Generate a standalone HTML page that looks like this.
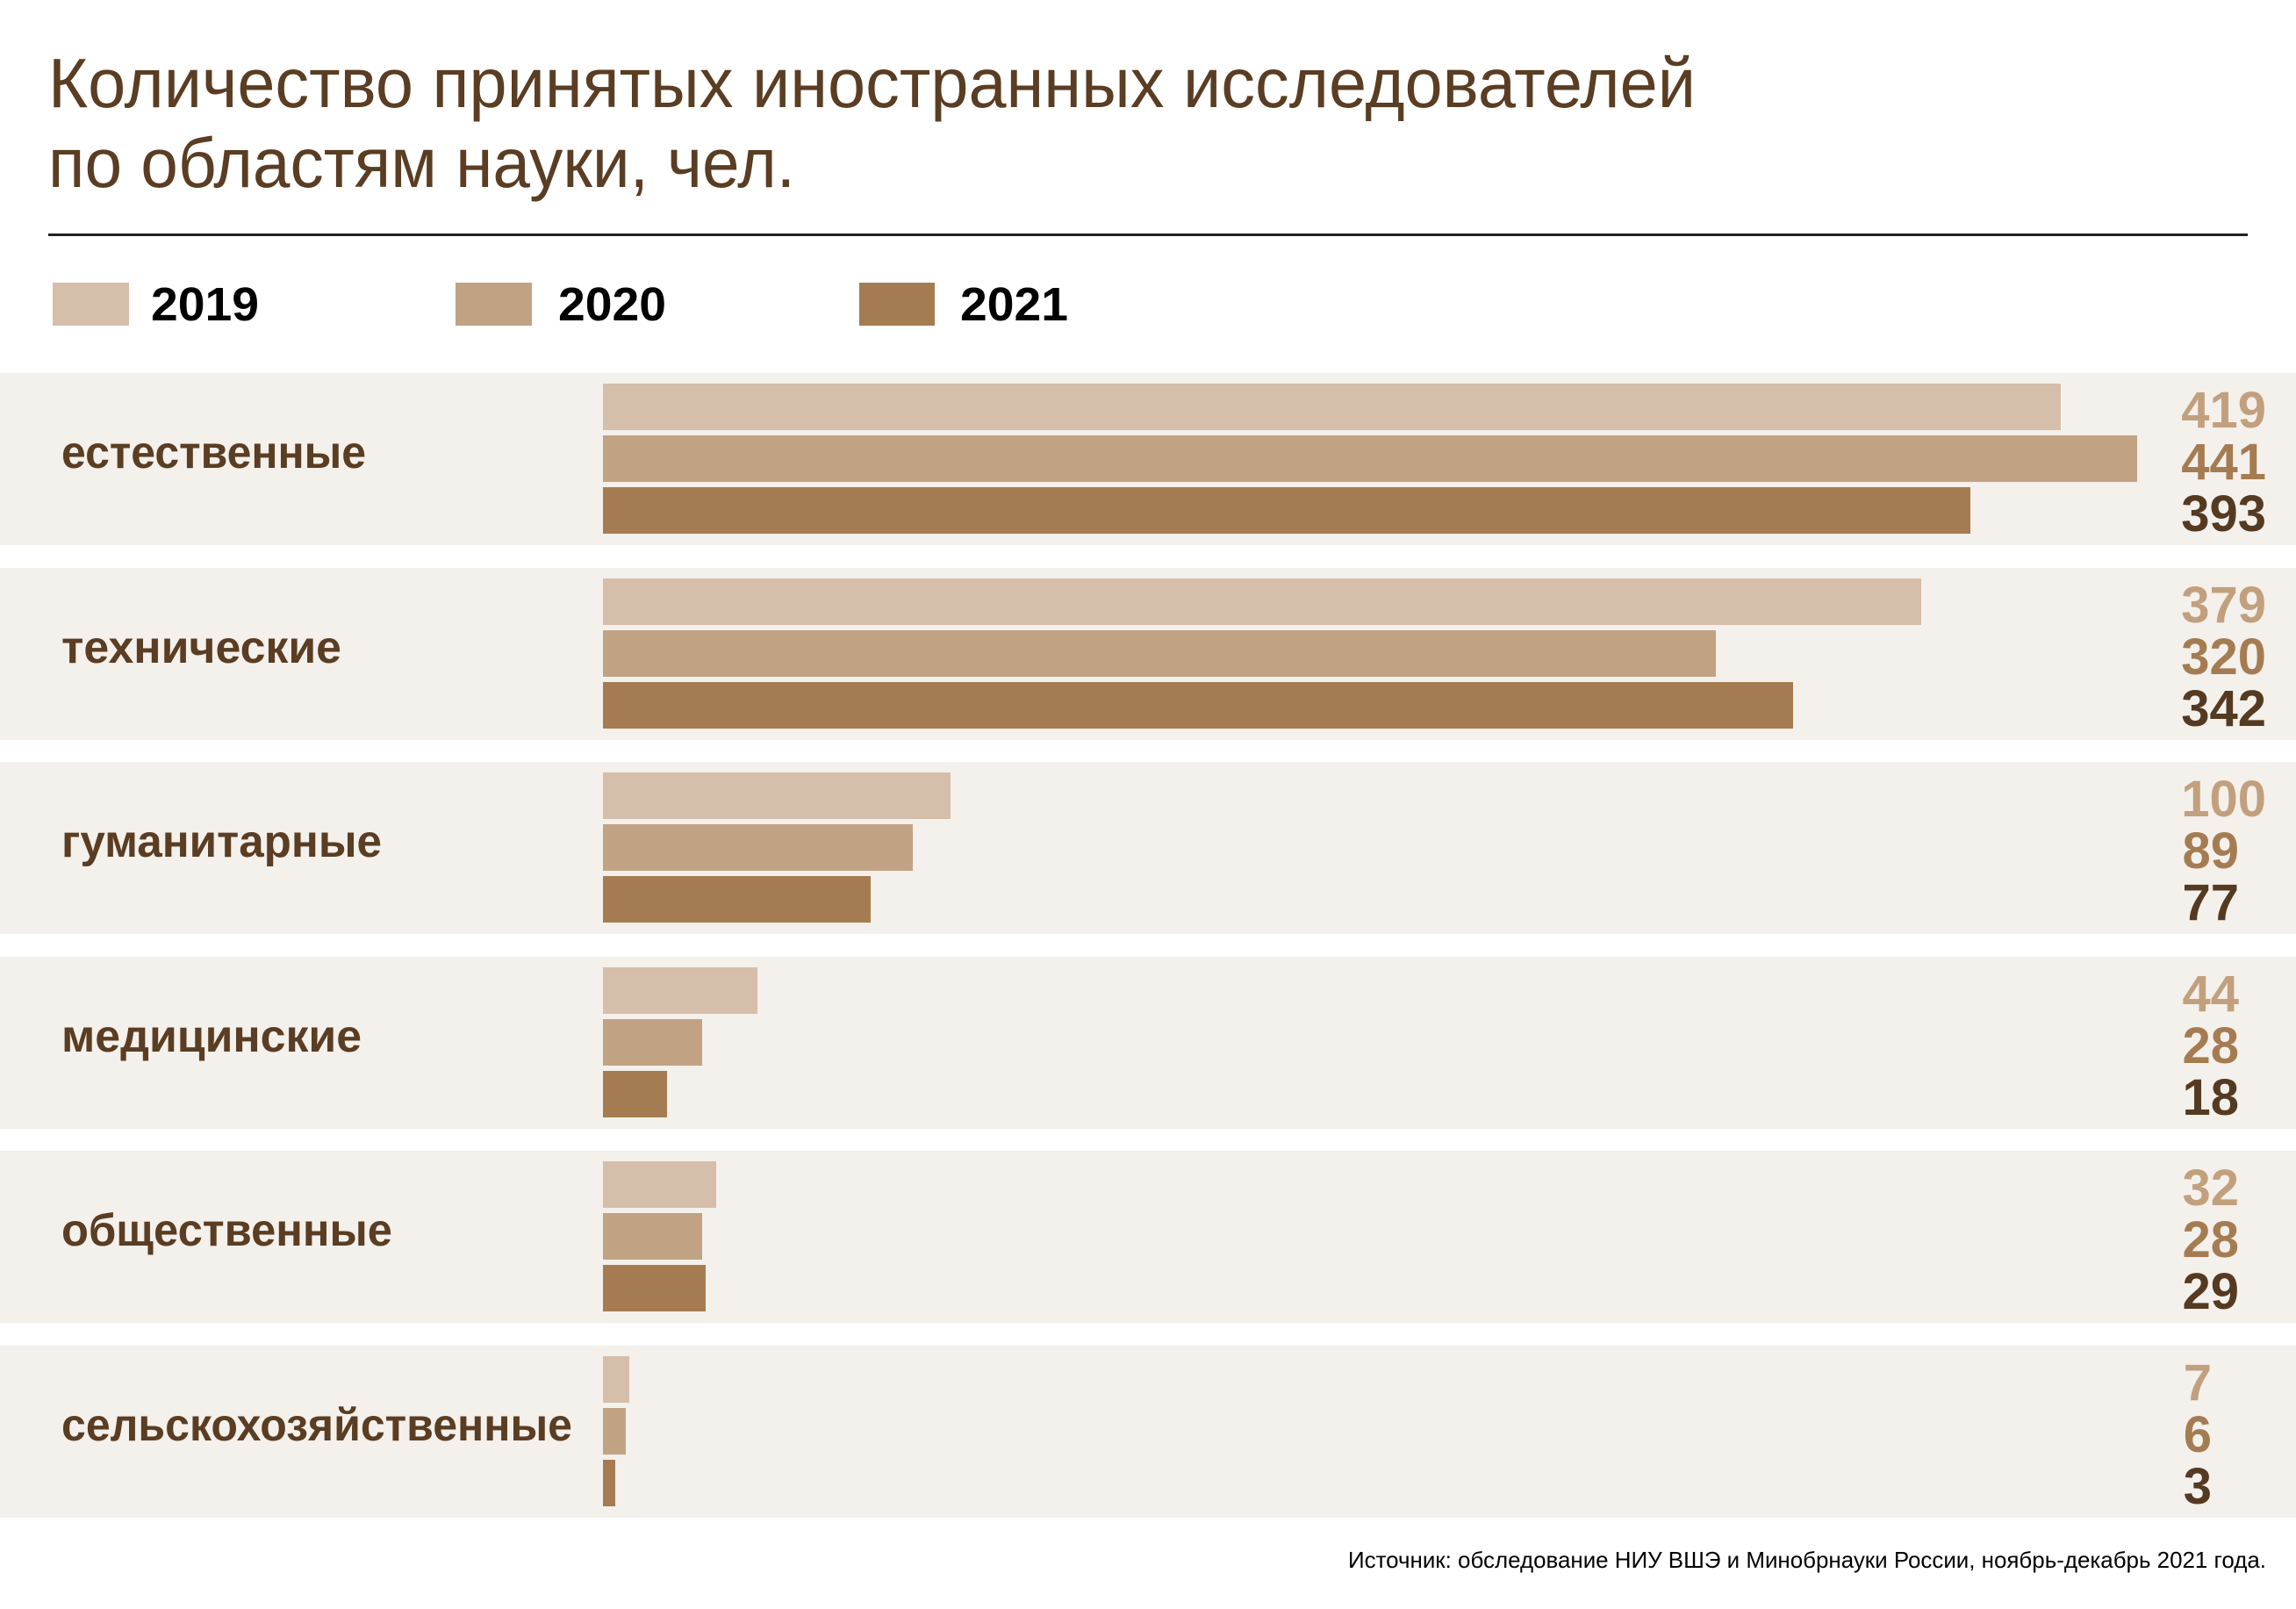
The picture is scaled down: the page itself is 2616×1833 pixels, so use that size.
<!DOCTYPE html>
<html><head><meta charset="utf-8"><style>
html,body{margin:0;padding:0;background:#fff;}
svg{display:block;}
text{font-family:"Liberation Sans","DejaVu Sans",sans-serif;}
.lb{font-size:52px;font-weight:bold;fill:#5a3d22;}
.v{font-size:58px;text-anchor:end;font-weight:bold;}
.a{fill:#c2a07e}.b{fill:#a57c52}.c{fill:#553a22}
</style></head><body>
<svg width="2616" height="1833" viewBox="0 0 2616 1833" xmlns="http://www.w3.org/2000/svg">
<rect width="2616" height="1833" fill="#fff"/>
<text x="55" y="122" font-size="80" fill="#5a3d22" textLength="1877" lengthAdjust="spacingAndGlyphs">Количество принятых иностранных исследователей</text>
<text x="55" y="213" font-size="80" fill="#5a3d22" textLength="851" lengthAdjust="spacingAndGlyphs">по областям науки, чел.</text>
<rect x="55" y="266" width="2506" height="3" fill="#222"/>
<rect x="60" y="322" width="87" height="49" fill="#d5bfaa"/>
<text x="172" y="365" font-size="54" font-weight="bold" fill="#000" textLength="123" lengthAdjust="spacingAndGlyphs">2019</text>
<rect x="519" y="322" width="87" height="49" fill="#c1a384"/>
<text x="636" y="365" font-size="54" font-weight="bold" fill="#000" textLength="123" lengthAdjust="spacingAndGlyphs">2020</text>
<rect x="979" y="322" width="86" height="49" fill="#a57c52"/>
<text x="1094" y="365" font-size="54" font-weight="bold" fill="#000" textLength="123" lengthAdjust="spacingAndGlyphs">2021</text>

<g transform="translate(0 425)">
<rect width="2616" height="196" fill="#f4f0eb"/>
<text class="lb" x="70" y="108" textLength="347" lengthAdjust="spacingAndGlyphs">естественные</text>
<rect x="687" y="12" width="1661" height="53" fill="#d5bfaa"/>
<rect x="687" y="71" width="1748" height="53" fill="#c1a384"/>
<rect x="687" y="130" width="1558" height="53" fill="#a57c52"/>
<text class="v a" x="2582" y="62">419</text><text class="v b" x="2582" y="121">441</text><text class="v c" x="2582" y="180">393</text>
</g>
<g transform="translate(0 647)">
<rect width="2616" height="196" fill="#f4f0eb"/>
<text class="lb" x="70" y="108" textLength="319" lengthAdjust="spacingAndGlyphs">технические</text>
<rect x="687" y="12" width="1502" height="53" fill="#d5bfaa"/>
<rect x="687" y="71" width="1268" height="53" fill="#c1a384"/>
<rect x="687" y="130" width="1356" height="53" fill="#a57c52"/>
<text class="v a" x="2582" y="62">379</text><text class="v b" x="2582" y="121">320</text><text class="v c" x="2582" y="180">342</text>
</g>
<g transform="translate(0 868)">
<rect width="2616" height="196" fill="#f4f0eb"/>
<text class="lb" x="70" y="108" textLength="365" lengthAdjust="spacingAndGlyphs">гуманитарные</text>
<rect x="687" y="12" width="396" height="53" fill="#d5bfaa"/>
<rect x="687" y="71" width="353" height="53" fill="#c1a384"/>
<rect x="687" y="130" width="305" height="53" fill="#a57c52"/>
<text class="v a" x="2582" y="62">100</text><text class="v b" x="2551" y="121">89</text><text class="v c" x="2551" y="180">77</text>
</g>
<g transform="translate(0 1090)">
<rect width="2616" height="196" fill="#f4f0eb"/>
<text class="lb" x="70" y="108" textLength="342" lengthAdjust="spacingAndGlyphs">медицинские</text>
<rect x="687" y="12" width="176" height="53" fill="#d5bfaa"/>
<rect x="687" y="71" width="113" height="53" fill="#c1a384"/>
<rect x="687" y="130" width="73" height="53" fill="#a57c52"/>
<text class="v a" x="2551" y="62">44</text><text class="v b" x="2551" y="121">28</text><text class="v c" x="2551" y="180">18</text>
</g>
<g transform="translate(0 1311)">
<rect width="2616" height="196" fill="#f4f0eb"/>
<text class="lb" x="70" y="108" textLength="377" lengthAdjust="spacingAndGlyphs">общественные</text>
<rect x="687" y="12" width="129" height="53" fill="#d5bfaa"/>
<rect x="687" y="71" width="113" height="53" fill="#c1a384"/>
<rect x="687" y="130" width="117" height="53" fill="#a57c52"/>
<text class="v a" x="2551" y="62">32</text><text class="v b" x="2551" y="121">28</text><text class="v c" x="2551" y="180">29</text>
</g>
<g transform="translate(0 1533)">
<rect width="2616" height="196" fill="#f4f0eb"/>
<text class="lb" x="70" y="108" textLength="582" lengthAdjust="spacingAndGlyphs">сельскохозяйственные</text>
<rect x="687" y="12" width="30" height="53" fill="#d5bfaa"/>
<rect x="687" y="71" width="26" height="53" fill="#c1a384"/>
<rect x="687" y="130" width="14" height="53" fill="#a57c52"/>
<text class="v a" x="2520" y="62">7</text><text class="v b" x="2520" y="121">6</text><text class="v c" x="2520" y="180">3</text>
</g>

<text x="2582" y="1786" font-size="26" fill="#000" text-anchor="end" textLength="1046" lengthAdjust="spacingAndGlyphs">Источник: обследование НИУ ВШЭ и Минобрнауки России, ноябрь-декабрь 2021 года.</text>
</svg>
</body></html>
